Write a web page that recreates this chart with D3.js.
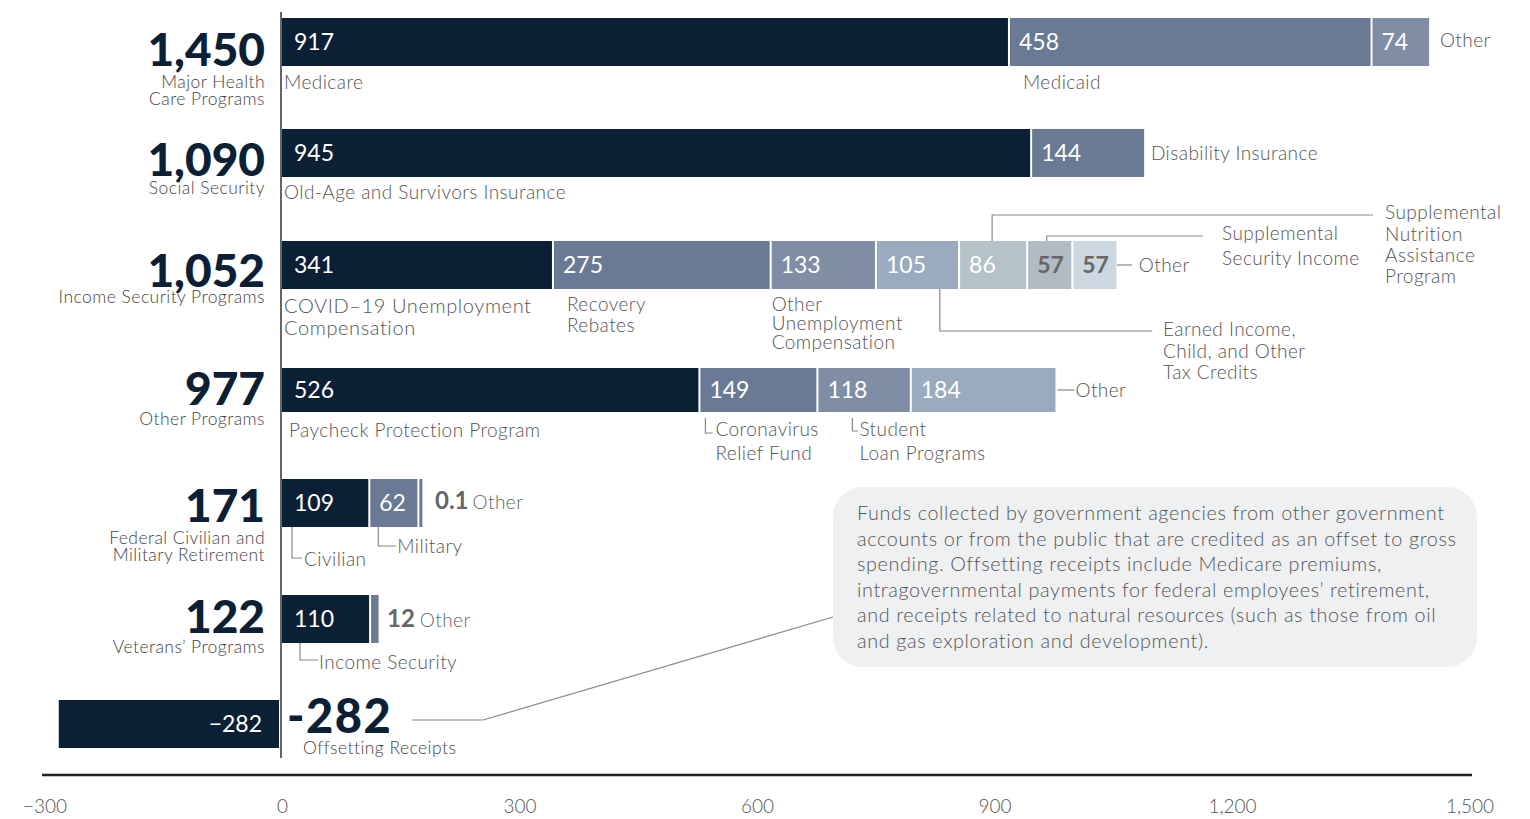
<!DOCTYPE html>
<html>
<head>
<meta charset="utf-8">
<script src="https://cdn.jsdelivr.net/npm/d3@7"></script>
<style>
  body { margin: 0; background: #fff; }
  svg { font-family: Lato, "Open Sans", sans-serif; }
</style>
</head>
<body>
<div id="chart"></div>
<script>
// Datos (miles de millones de dólares)
const categories = [
    ["Major Health", "Care Programs"],
    ["Social Security"],
    ["Income Security Programs"],
    ["Other Programs"],
    ["Federal Civilian and", "Military Retirement"],
    ["Veterans’ Programs"],
    ["Offsetting Receipts"]
];
const totals = [1450, 1090, 1052, 977, 171, 122, -282];
const segmentValues = [
    [917, 458, 74],
    [945, 144],
    [341, 275, 133, 105, 86, 57, 57],
    [526, 149, 118, 184],
    [109, 62, 0.1],
    [110, 12],
    [-282]
];
const segmentNames = [
    ["Medicare", "Medicaid", "Other"],
    ["Old-Age and Survivors Insurance", "Disability Insurance"],
    ["COVID–19 Unemployment Compensation", "Recovery Rebates", "Other Unemployment Compensation",
     "Earned Income, Child, and Other Tax Credits", "Supplemental Nutrition Assistance Program",
     "Supplemental Security Income", "Other"],
    ["Paycheck Protection Program", "Coronavirus Relief Fund", "Student Loan Programs", "Other"],
    ["Civilian", "Military", "Other"],
    ["Income Security", "Other"],
    ["Offsetting Receipts"]
];
const tickValues = [-300, 0, 300, 600, 900, 1200, 1500];
const noteText = [
    "Funds collected by government agencies from other government",
    "accounts or from the public that are credited as an offset to gross",
    "spending. Offsetting receipts include Medicare premiums,",
    "intragovernmental payments for federal employees’ retirement,",
    "and receipts related to natural resources (such as those from oil",
    "and gas exploration and development)."
];

// Estilos
const DARK = "#0c2035";
const segmentColors = [
    [DARK, "#6a7a95", "#7f8da5"],
    [DARK, "#6a7a95"],
    [DARK, "#6a7a95", "#7f8da5", "#9babbf", "#b6c2ca", "#b0bbc3", "#cdd7e1"],
    [DARK, "#6a7a95", "#7f8da5", "#9babbf"],
    [DARK, "#6a7a95", "#6a7a95"],
    [DARK, "#6a7a95"],
    [DARK]
];
const lightLabel = new Set(["#b0bbc3", "#cdd7e1"]);
const TEXT = "#555";
const LINE = "#888";
const BODY_SIZE = 19;
const BODY_LS = 0.45;

// Disposición de filas
const rowTop = [18, 129, 241, 368, 479, 595, 700];
const rowH = [48, 48, 48, 44, 48, 48, 48];
const totalBase = [66, 176, 287, 405, 522, 633];
const subBase = [[88, 105], [194], [303], [425], [544, 561], [653]];

const width = 1530, height = 819;
const svg = d3.select("#chart").append("svg")
    .attr("width", width).attr("height", height);

const x = d3.scaleLinear().domain([-300, 1500]).range([44.5, 1469.5]);

// Línea del cero
svg.append("line")
    .attr("x1", x(0) - 1).attr("x2", x(0) - 1)
    .attr("y1", 12).attr("y2", 758)
    .attr("stroke", "#333").attr("stroke-width", 1.5);

// Barras apiladas
segmentValues.forEach((vals, r) => {
    let cum = 0;
    const g = svg.append("g");
    vals.forEach((v, i) => {
        const a = v < 0 ? cum + v : cum;
        const b = v < 0 ? cum : cum + v;
        let x0 = x(a) + (i > 0 ? 2 : 0);
        let w = Math.max(3, x(b) - x0);
        if (v < 0) { x0 = x(a); w = x(b) - x(a) - 3; }
        g.append("rect")
            .attr("x", x0).attr("y", rowTop[r])
            .attr("width", w).attr("height", rowH[r])
            .attr("fill", segmentColors[r][i]);
        if (w > 30) {
            const col = segmentColors[r][i];
            g.append("text")
                .attr("x", v < 0 ? x0 + w - 17 : x0 + (i === 0 ? 12 : 9))
                .attr("y", rowTop[r] + rowH[r] / 2 + 8)
                .attr("text-anchor", v < 0 ? "end" : "start")
                .attr("font-size", 23)
                .attr("fill", lightLabel.has(col) ? "#666" : "#fff")
                .attr("font-weight", lightLabel.has(col) ? 700 : 400)
                .text(d3.format(",")(v));
        }
        cum += v;
    });
});

// Totales y categorías
totals.slice(0, 6).forEach((t, r) => {
    svg.append("text")
        .attr("x", 265).attr("y", totalBase[r])
        .attr("text-anchor", "end")
        .attr("font-size", 46).attr("font-weight", 900)
        .attr("fill", DARK)
        .text(d3.format(",")(t));
    categories[r].forEach((line, j) => {
        svg.append("text")
            .attr("x", 265).attr("y", subBase[r][j])
            .attr("text-anchor", "end")
            .attr("font-size", 17.5).attr("font-weight", 300)
            .attr("letter-spacing", 0.45)
            .attr("fill", "#444")
            .text(line);
    });
});
// Fila negativa: total a la derecha del cero
svg.append("text")
    .attr("x", 287).attr("y", 733)
    .attr("font-size", 47).attr("font-weight", 900)
    .attr("fill", DARK).attr("letter-spacing", 1.5)
    .text("-" + Math.abs(totals[6]));
svg.append("text")
    .attr("x", 303).attr("y", 754)
    .attr("font-size", 17.5).attr("font-weight", 300)
    .attr("letter-spacing", 0.45).attr("fill", "#444")
    .text(categories[6][0]);

// Utilidades de etiquetas
function label(lines, lx, baselines, opts = {}) {
    const t = svg.append("text")
        .attr("font-size", opts.size || BODY_SIZE)
        .attr("font-weight", 300)
        .attr("letter-spacing", opts.ls !== undefined ? opts.ls : BODY_LS)
        .attr("fill", TEXT);
    lines.forEach((l, i) => {
        t.append("tspan").attr("x", lx).attr("y", baselines[i]).text(l);
    });
    return t;
}
function leader(d) {
    svg.append("path").attr("d", d)
        .attr("fill", "none").attr("stroke", LINE).attr("stroke-width", 1.2);
}
const cumAt = (r, i) => d3.sum(segmentValues[r].slice(0, i));
const bottom = r => rowTop[r] + rowH[r];

// Fila 1
label([segmentNames[0][0]], 284, [89]);
label([segmentNames[0][1]], x(cumAt(0, 1)) + 15, [89]);
label([segmentNames[0][2]], x(totals[0]) + 10, [47]);

// Fila 2
label([segmentNames[1][0]], 284, [199]);
label([segmentNames[1][1]], x(totals[1]) + 6, [160]);

// Fila 3
label(["COVID–19 Unemployment", "Compensation"], 284, [313, 335], { size: 20, ls: 0.6 });
label(["Recovery", "Rebates"], x(cumAt(2, 1)) + 15, [311, 332]);
label(["Other", "Unemployment", "Compensation"], x(cumAt(2, 2)) + 2, [311, 330, 349]);
{
    const cx = x(cumAt(2, 4) + segmentValues[2][4] / 2);
    leader(`M${cx},${rowTop[2]}V215H1373`);
    label(["Supplemental", "Nutrition", "Assistance", "Program"], 1385, [219, 241, 262, 283]);
    const sx = x(cumAt(2, 5) + segmentValues[2][5] / 2) - 2;
    leader(`M${sx},${rowTop[2]}V236H1203`);
    label(["Supplemental", "Security Income"], 1222, [240, 265]);
    const ex = x(cumAt(2, 3) + segmentValues[2][3] * 0.78);
    leader(`M${ex},${bottom(2)}V331H1152`);
    label(["Earned Income,", "Child, and Other", "Tax Credits"], 1163, [336, 358, 379]);
    const ox = x(totals[2]) + 2;
    const my = rowTop[2] + rowH[2] / 2;
    leader(`M${ox},${my}H${ox + 15}`);
    label(["Other"], ox + 22, [my + 6.5]);
}

// Fila 4
label([segmentNames[3][0]], 289, [437]);
{
    const c0 = x(cumAt(3, 1)) + 7;
    leader(`M${c0},${bottom(3) + 6}V433H${c0 + 7}`);
    label(["Coronavirus", "Relief Fund"], c0 + 10, [436, 460]);
    const c1 = x(cumAt(3, 2)) + 36;
    leader(`M${c1},${bottom(3) + 6}V431H${c1 + 6}`);
    label(["Student", "Loan Programs"], c1 + 7, [436, 460]);
    const ox = x(totals[3]) + 2;
    const my = rowTop[3] + rowH[3] / 2;
    leader(`M${ox},${my}H${ox + 17}`);
    label(["Other"], ox + 18, [my + 6.5]);
}

// Fila 5
{
    leader(`M292,${bottom(4)}V558H302`);
    label([segmentNames[4][0]], 304, [566]);
    const m = x(cumAt(4, 1)) + 10;
    leader(`M${m},${bottom(4)}V546H${m + 18}`);
    label([segmentNames[4][1]], m + 19, [553]);
    const t = svg.append("text").attr("x", 435).attr("y", 509).attr("fill", "#666");
    t.append("tspan").attr("font-size", 24).attr("font-weight", 700).text(segmentValues[4][2]);
    t.append("tspan").attr("font-size", BODY_SIZE).attr("font-weight", 300)
        .attr("letter-spacing", BODY_LS).attr("dx", 4).text(segmentNames[4][2]);
}

// Fila 6
{
    leader(`M300,${bottom(5)}V660H318`);
    label([segmentNames[5][0]], 319, [669]);
    const t = svg.append("text").attr("x", 387).attr("y", 627).attr("fill", "#666");
    t.append("tspan").attr("font-size", 24).attr("font-weight", 700).text(segmentValues[5][1]);
    t.append("tspan").attr("font-size", BODY_SIZE).attr("font-weight", 300)
        .attr("letter-spacing", BODY_LS).attr("dx", 5).text(segmentNames[5][1]);
}

// Nota explicativa
svg.append("rect")
    .attr("x", 833).attr("y", 487).attr("width", 644).attr("height", 180)
    .attr("rx", 30).attr("fill", "#eff0f2");
label(noteText, 857, noteText.map((_, i) => 520 + i * 25.6), { size: 19.8, ls: 0.64 });
leader("M412,720H483L833,617");

// Eje
const axis = svg.append("g")
    .attr("transform", "translate(0,775)")
    .call(d3.axisBottom(x).tickValues(tickValues).tickSize(0).tickPadding(25)
        .tickFormat(d3.format(",")));
axis.select(".domain").attr("stroke", "#222").attr("stroke-width", 2.5)
    .attr("d", "M42,0H1472");
axis.selectAll("text")
    .attr("font-family", "Lato, sans-serif")
    .attr("font-weight", 300)
    .attr("font-size", 19).attr("fill", TEXT);
</script>
</body>
</html>
